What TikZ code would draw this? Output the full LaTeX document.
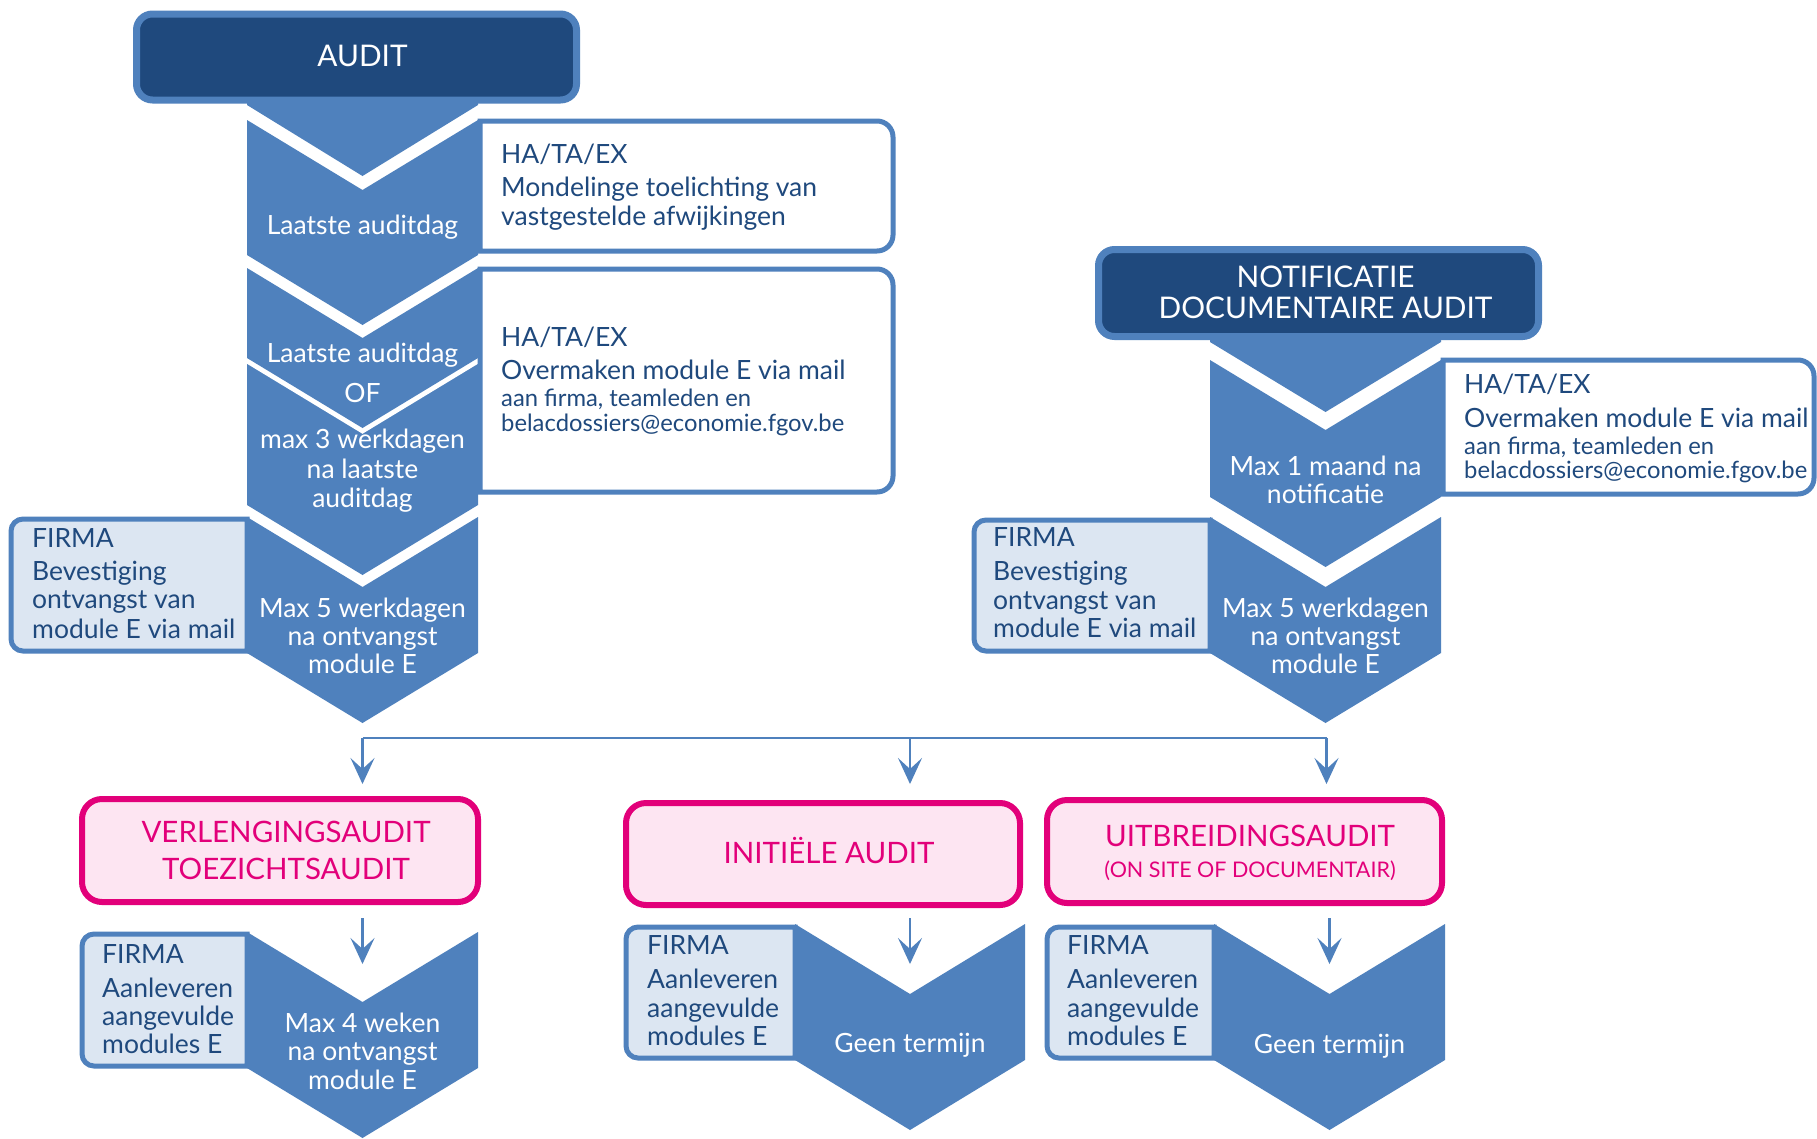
\documentclass[tikz,border=0pt]{standalone}
\usepackage{fontspec}
\setmainfont{Lato}
\usetikzlibrary{arrows.meta}
\definecolor{navy}{HTML}{1F497D}
\definecolor{cblue}{HTML}{4F81BD}
\definecolor{firmafill}{HTML}{DCE6F2}
\definecolor{pinkfill}{HTML}{FDE5F2}
\definecolor{mag}{HTML}{E2007A}
\newcommand\mychev[4]{%
  \fill[chev] (#1,#3) -- ({(#1+#2)/2},{#3+70}) -- (#2,#3) -- (#2,#4) -- ({(#1+#2)/2},{#4+70}) -- (#1,#4) -- cycle;}
\newcommand\mywbox[4]{%
  \draw[wbox] (#1,#2) -- ({#3-16},#2) arc[start angle=270,end angle=360,radius=16] -- (#3,{#4-16}) arc[start angle=0,end angle=90,radius=16] -- (#1,#4) -- cycle;}
\newcommand\myfbox[4]{%
  \draw[fbox] (#3,#2) -- ({#1+12},#2) arc[start angle=270,end angle=180,radius=12] -- (#1,{#4-12}) arc[start angle=180,end angle=90,radius=12] -- (#3,#4) -- cycle;}
\tikzset{
  chev/.style={fill=cblue, draw=none},
  wbox/.style={draw=cblue, line width=5pt, fill=white},
  fbox/.style={draw=cblue, line width=5pt, fill=firmafill},
  hbox/.style={draw=cblue, line width=7pt, fill=navy, rounded corners=16pt, inner sep=0pt},
  htext/.style={text=white, font=\fontsize{29.8}{32}\selectfont, anchor=base, inner sep=0pt},
  pbox/.style={draw=mag, line width=6pt, fill=pinkfill, rounded corners=20pt, inner sep=0pt},
  ptext/.style={text=mag, font=\fontsize{29.5}{32}\selectfont, anchor=base, inner sep=0pt},
  pstext/.style={text=mag, font=\fontsize{21.5}{23}\selectfont, anchor=base, inner sep=0pt},
  ctext/.style={text=white, font=\fontsize{26.5}{28}\selectfont, anchor=base, inner sep=0pt},
  dtext/.style={text=navy, font=\fontsize{26.5}{28}\selectfont, anchor=base west, inner sep=0pt},
  stext/.style={text=navy, font=\fontsize{23.8}{24}\selectfont, anchor=base west, inner sep=0pt},
  hline/.style={draw=cblue, line width=2pt},
  conn/.style={draw=cblue, line width=2.2pt, -{Stealth[length=26pt,width=24pt,inset=11pt]}},
}
\begin{document}
\begin{tikzpicture}[x=1pt,y=-1pt]
\useasboundingbox (0,0) rectangle (1817,1138);
\clip (0,0) rectangle (1817,1138);
\fill[white] (0,0) rectangle (1817,1138);

% ---------- left column ----------
\fill[chev] (247,50) -- (478,50) -- (478,105) -- (362.5,176) -- (247,105) -- cycle;
\node[hbox, minimum width=440pt, minimum height=86pt] (audit) at (356.5,57) {};
\node[htext] (audittxt) at (362.5,66) {AUDIT};

\mychev{247}{478}{120}{255}
\mychev{247}{478}{268}{358}
\mychev{247}{478}{362}{505}
\draw[white, line width=3pt] (247,362) -- (362.5,432) -- (478,362);
\myfbox{11}{519}{247}{651}
\mychev{247}{478}{517}{653}

\mywbox{480}{121}{893}{251}
\mywbox{480}{269}{893}{492}

\node[ctext] (c1t) at (362.5,234) {Laatste auditdag};
\node[ctext] (c2t1) at (362.5,362) {Laatste auditdag};
\node[ctext] (c2t2) at (362.5,402) {OF};
\node[ctext] (c2t3) at (362.5,448) {max 3 werkdagen};
\node[ctext] (c2t4) at (362.5,478) {na laatste};
\node[ctext] (c2t5) at (362.5,507) {auditdag};
\node[ctext] (c3t1) at (362.5,617) {Max 5 werkdagen};
\node[ctext] (c3t2) at (362.5,645) {na ontvangst};
\node[ctext] (c3t3) at (362.5,673) {module E};

\node[dtext] (w1a) at (501,163) {HA/TA/EX};
\node[dtext] (w1b) at (501,196) {Mondelinge toelichting van};
\node[dtext] (w1c) at (501,225) {vastgestelde afwijkingen};
\node[dtext] (w2a) at (501,346) {HA/TA/EX};
\node[dtext] (w2b) at (501,379) {Overmaken module E via mail};
\node[stext] (w2c) at (501,406) {aan firma, teamleden en};
\node[stext] (w2d) at (501,431) {belacdossiers@economie.fgov.be};

\node[dtext] (f1a) at (32,547) {FIRMA};
\node[dtext] (f1b) at (32,580) {Bevestiging};
\node[dtext] (f1c) at (32,608) {ontvangst van};
\node[dtext] (f1d) at (32,638) {module E via mail};

% ---------- right column ----------
\fill[chev] (1210,300) -- (1441,300) -- (1441,342) -- (1325.5,412) -- (1210,342) -- cycle;
\node[hbox, minimum width=440pt, minimum height=87pt] (notif) at (1318.5,293) {};
\node[htext] (notift1) at (1325.5,287) {NOTIFICATIE};
\node[htext] (notift2) at (1325.5,318) {DOCUMENTAIRE AUDIT};

\mychev{1210}{1441}{360}{497}
\myfbox{974}{520}{1210}{651}
\mychev{1210}{1441}{517}{653}
\mywbox{1443}{360}{1814}{494}

\node[ctext] (r1t1) at (1325.5,475) {Max 1 maand na};
\node[ctext] (r1t2) at (1325.5,503) {notificatie};
\node[ctext] (r2t1) at (1325.5,617) {Max 5 werkdagen};
\node[ctext] (r2t2) at (1325.5,645) {na ontvangst};
\node[ctext] (r2t3) at (1325.5,673) {module E};

\node[dtext] (w3a) at (1464,393) {HA/TA/EX};
\node[dtext] (w3b) at (1464,427) {Overmaken module E via mail};
\node[stext] (w3c) at (1464,454) {aan firma, teamleden en};
\node[stext] (w3d) at (1464,478) {belacdossiers@economie.fgov.be};

\node[dtext] (fra) at (993,546) {FIRMA};
\node[dtext] (frb) at (993,580) {Bevestiging};
\node[dtext] (frc) at (993,609) {ontvangst van};
\node[dtext] (frd) at (993,637) {module E via mail};

% ---------- connector ----------
\coordinate (jl) at (362.5,738);
\coordinate (jm) at (910,738);
\coordinate (jr) at (1326.5,738);
\coordinate (al) at (362.5,784);
\coordinate (am) at (910,784);
\coordinate (ar) at (1326.5,784);
\draw[hline] (jl) -- (jr);
\draw[conn] (jl) -- (al);
\draw[conn] (jm) -- (am);
\draw[conn] (jr) -- (ar);

% ---------- bottom row ----------
\node[pbox, minimum width=396pt, minimum height=103pt] (p1) at (280,850.5) {};
\node[ptext] (p1a) at (286,842) {VERLENGINGSAUDIT};
\node[ptext] (p1b) at (286,879) {TOEZICHTSAUDIT};
\node[pbox, minimum width=394pt, minimum height=102pt] (p2) at (823,854) {};
\node[ptext] (p2a) at (829,863) {INITIËLE AUDIT};
\node[pbox, minimum width=395pt, minimum height=103pt] (p3) at (1244.5,851.5) {};
\node[ptext] (p3a) at (1250,846) {UITBREIDINGSAUDIT};
\node[pstext] (p3b) at (1250,877) {(ON SITE OF DOCUMENTAIR)};

\myfbox{82}{934}{247}{1066}
\mychev{247}{478}{932}{1068}
\myfbox{626}{927}{795}{1058}
\mychev{795}{1025}{924}{1060}
\myfbox{1047}{927}{1214}{1058}
\mychev{1214}{1445}{924}{1060}

\coordinate (bl0) at (362.5,918);
\coordinate (bl1) at (362.5,964);
\coordinate (bm0) at (910,918);
\coordinate (bm1) at (910,964);
\coordinate (br0) at (1329.5,918);
\coordinate (br1) at (1329.5,964);
\draw[conn] (bl0) -- (bl1);
\draw[conn] (bm0) -- (bm1);
\draw[conn] (br0) -- (br1);

\node[ctext] (c4t1) at (362.5,1032) {Max 4 weken};
\node[ctext] (c4t2) at (362.5,1060) {na ontvangst};
\node[ctext] (c4t3) at (362.5,1089) {module E};
\node[ctext] (c5t) at (910,1052) {Geen termijn};
\node[ctext] (c6t) at (1329.5,1053) {Geen termijn};

\node[dtext] (f4a) at (102,963) {FIRMA};
\node[dtext] (f4b) at (102,997) {Aanleveren};
\node[dtext] (f4c) at (102,1025) {aangevulde};
\node[dtext] (f4d) at (102,1053) {modules E};
\node[dtext] (f5a) at (647,954) {FIRMA};
\node[dtext] (f5b) at (647,988) {Aanleveren};
\node[dtext] (f5c) at (647,1017) {aangevulde};
\node[dtext] (f5d) at (647,1045) {modules E};
\node[dtext] (f6a) at (1067,954) {FIRMA};
\node[dtext] (f6b) at (1067,988) {Aanleveren};
\node[dtext] (f6c) at (1067,1017) {aangevulde};
\node[dtext] (f6d) at (1067,1045) {modules E};
\end{tikzpicture}
\end{document}
